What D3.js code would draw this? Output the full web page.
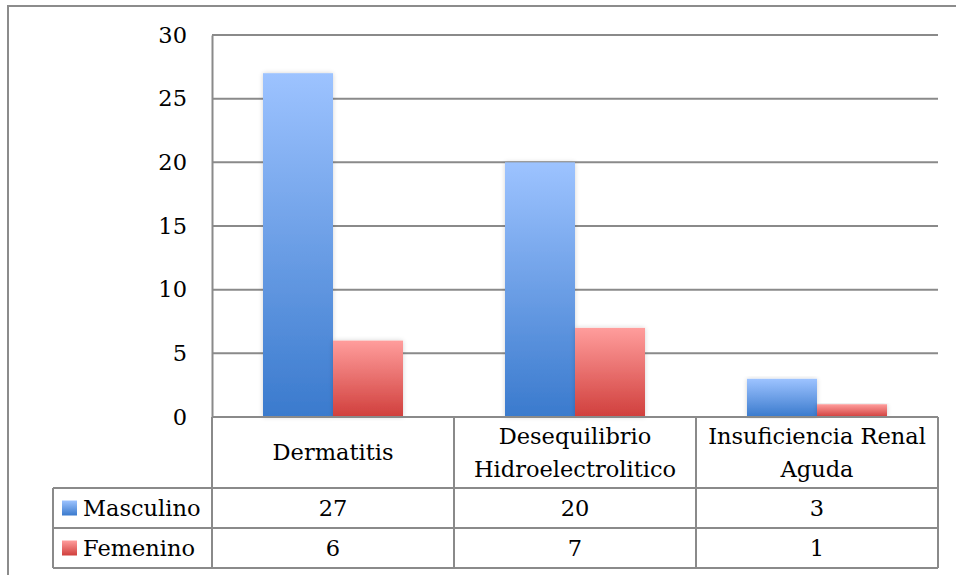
<!DOCTYPE html>
<html>
<head>
<meta charset="utf-8">
<script src="https://cdn.jsdelivr.net/npm/d3@7"></script>
<style>
  html, body { margin: 0; padding: 0; background: #fff; }
  svg { display: block; }
  text { font-family: "DejaVu Serif", "Liberation Serif", "Noto Serif", "Times New Roman", serif; fill: #000; }
</style>
</head>
<body>
<svg id="chart" width="956" height="575"></svg>
<script>
// Diagnósticos por sexo
const categories = ["Dermatitis", "Desequilibrio Hidroelectrolitico", "Insuficiencia Renal Aguda"];
const categoryLines = [["Dermatitis"], ["Desequilibrio", "Hidroelectrolitico"], ["Insuficiencia Renal", "Aguda"]];
const seriesNames = ["Masculino", "Femenino"];
const masculino = [27, 20, 3];
const femenino = [6, 7, 1];
const yTicks = [0, 5, 10, 15, 20, 25, 30];

const seriesValues = [masculino, femenino];
const gradients = [
  { id: "gradBlue", top: "#9dc3ff", bottom: "#3a7acd" },
  { id: "gradRed", top: "#ff9d9c", bottom: "#d03f3c" }
];

const svg = d3.select("#chart");
const lineColor = "#8a8a8a";
const fontSize = 22.5;

// Layout
const plot = { left: 212, right: 938, top: 35, bottom: 417 };
const table = { legendLeft: 53, catRowBottom: 488, row1Bottom: 528, row2Bottom: 568 };

const defs = svg.append("defs");
gradients.forEach(g => {
  const lg = defs.append("linearGradient").attr("id", g.id)
    .attr("x1", 0).attr("y1", 0).attr("x2", 0).attr("y2", 1);
  lg.append("stop").attr("offset", "0%").attr("stop-color", g.top);
  lg.append("stop").attr("offset", "100%").attr("stop-color", g.bottom);
});
const shadow = defs.append("filter").attr("id", "barShadow")
  .attr("x", "-20%").attr("y", "-5%").attr("width", "140%").attr("height", "110%");
shadow.append("feGaussianBlur").attr("in", "SourceAlpha").attr("stdDeviation", 2.5).attr("result", "blur");
shadow.append("feComponentTransfer").attr("in", "blur").attr("result", "soft")
  .append("feFuncA").attr("type", "linear").attr("slope", 0.18);
const merge = shadow.append("feMerge");
merge.append("feMergeNode").attr("in", "soft");
merge.append("feMergeNode").attr("in", "SourceGraphic");

// Outer chart border (top and left edges)
svg.append("rect").attr("x", 8).attr("y", 6).attr("width", 1000).attr("height", 600)
  .attr("fill", "none").attr("stroke", "#8c8c8c").attr("stroke-width", 2);

// Scales
const y = d3.scaleLinear().domain([0, 30]).range([plot.bottom, plot.top]);
const pad = 102 / 242;
const x = d3.scaleBand().domain(categories).range([plot.left, plot.right])
  .paddingInner(pad).paddingOuter(pad / 2);
const xs = d3.scaleBand().domain(seriesNames).range([0, x.bandwidth()]);

// Gridlines
svg.append("g").selectAll("line").data(yTicks).join("line")
  .attr("x1", plot.left).attr("x2", plot.right)
  .attr("y1", d => y(d)).attr("y2", d => y(d))
  .attr("stroke", lineColor).attr("stroke-width", 2);

// Y axis
const yAxis = svg.append("g").attr("transform", `translate(${plot.left},0)`)
  .call(d3.axisLeft(y).tickValues(yTicks).tickSize(0).tickPadding(25).tickFormat(d3.format("d")));
yAxis.attr("font-family", null);
yAxis.select(".domain").attr("stroke", lineColor).attr("stroke-width", 2);
yAxis.selectAll("text").attr("font-size", fontSize).attr("fill", "#000");

// Bars
const groups = svg.append("g").selectAll("g").data(categories).join("g")
  .attr("transform", d => `translate(${x(d)},0)`);
groups.selectAll("rect").data((c, i) => seriesNames.map((s, k) => ({ s, k, v: seriesValues[k][i] })))
  .join("rect")
  .attr("x", d => xs(d.s)).attr("width", xs.bandwidth())
  .attr("y", d => y(d.v)).attr("height", d => y(0) - y(d.v))
  .attr("fill", d => `url(#${gradients[d.k].id})`)
  .attr("filter", "url(#barShadow)");

// Data table
const tg = svg.append("g").attr("stroke", lineColor).attr("stroke-width", 2);
tg.append("line").attr("x1", plot.left).attr("x2", plot.right).attr("y1", plot.bottom).attr("y2", plot.bottom);
[table.catRowBottom, table.row1Bottom, table.row2Bottom].forEach(yy =>
  tg.append("line").attr("x1", table.legendLeft).attr("x2", plot.right).attr("y1", yy).attr("y2", yy));
tg.append("line").attr("x1", table.legendLeft).attr("x2", table.legendLeft)
  .attr("y1", table.catRowBottom).attr("y2", table.row2Bottom);
const colEdges = [plot.left].concat(categories.map(c => x(c) - x.step() * pad / 2 + x.step()));
colEdges.forEach(xx => tg.append("line").attr("x1", xx).attr("x2", xx)
  .attr("y1", plot.bottom).attr("y2", table.row2Bottom));

// Category labels
const catMid = (plot.bottom + table.catRowBottom) / 2;
const lineH = 33;
categories.forEach((c, i) => {
  const lines = categoryLines[i];
  const t = svg.append("text").attr("text-anchor", "middle").attr("font-size", fontSize)
    .attr("x", x(c) + x.bandwidth() / 2);
  lines.forEach((ln, j) => {
    t.append("tspan").attr("x", x(c) + x.bandwidth() / 2)
      .attr("y", catMid + (j - (lines.length - 1) / 2) * lineH)
      .attr("dy", "0.35em").text(ln);
  });
});

// Series rows
const rowMids = [(table.catRowBottom + table.row1Bottom) / 2, (table.row1Bottom + table.row2Bottom) / 2];
seriesNames.forEach((s, k) => {
  svg.append("rect").attr("x", 62).attr("y", rowMids[k] - 7.5).attr("width", 15).attr("height", 15)
    .attr("fill", `url(#${gradients[k].id})`);
  svg.append("text").attr("x", 83).attr("y", rowMids[k]).attr("dy", "0.35em")
    .attr("font-size", fontSize).text(s);
  categories.forEach((c, i) => {
    svg.append("text").attr("text-anchor", "middle").attr("font-size", fontSize)
      .attr("x", x(c) + x.bandwidth() / 2).attr("y", rowMids[k]).attr("dy", "0.35em")
      .text(seriesValues[k][i]);
  });
});
</script>
</body>
</html>
